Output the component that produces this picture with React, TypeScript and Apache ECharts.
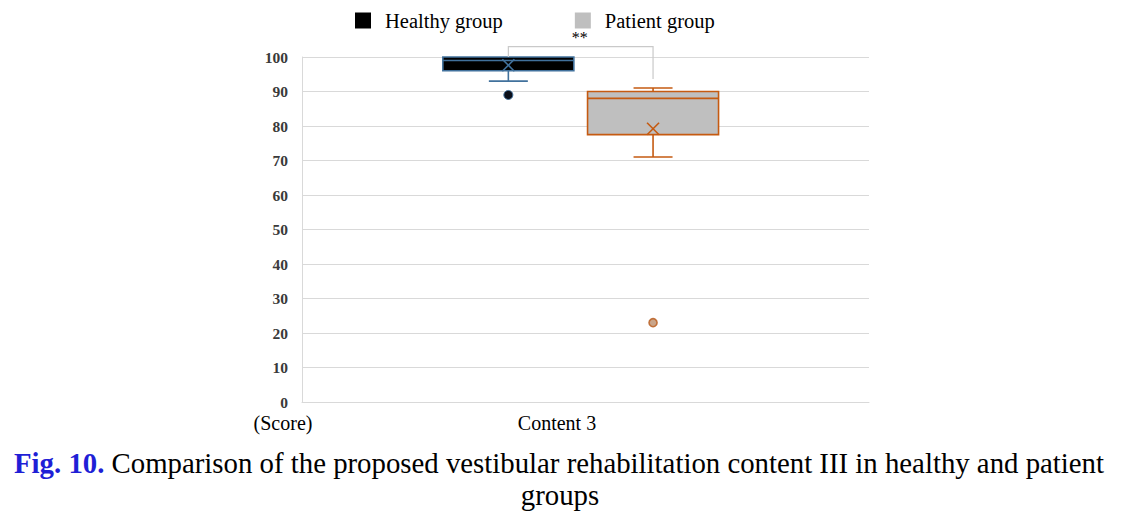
import React, { useEffect, useRef } from "react";
import * as echarts from "echarts";

const categories = ["Content 3"];
const groups = ["Healthy group", "Patient group"];
// [min, Q1, median, Q3, max]
const healthyBox = [93, 96, 99, 100, 100];
const patientBox = [71, 77.5, 88, 90, 91];
const means = [97.6, 79.2];
const healthyOutliers = [89];
const patientOutliers = [23];
// bracket: [left end, top, right end], label
const bracketValues = [100, 103, 93.6];
const bracketLabel = "**";
const yTicks = [0, 10, 20, 30, 40, 50, 60, 70, 80, 90, 100];

const FONT = "'Liberation Serif', 'Times New Roman', serif";
const fills = ["#000000", "#bfbfbf"];
const borders = ["#41719c", "#c55a11"];

export default function App() {
  const ref = useRef<HTMLDivElement>(null);
  useEffect(() => {
    if (!ref.current) return;
    const chart = echarts.init(ref.current, undefined, { renderer: "svg" });

    const boxRender = (gi: number) => (params: any, api: any) => {
      const x = api.value(0);
      const vmin = api.value(1), q1 = api.value(2), med = api.value(3), q3 = api.value(4), vmax = api.value(5), mean = api.value(6);
      const pMin = api.coord([x, vmin]);
      const pQ1 = api.coord([x, q1]);
      const pMed = api.coord([x, med]);
      const pQ3 = api.coord([x, q3]);
      const pMax = api.coord([x, vmax]);
      const pMean = api.coord([x, mean]);
      const cx = pQ1[0];
      const hw = 65.5;
      const cap = 19.5;
      const stroke = borders[gi];
      const ls = { stroke, lineWidth: 1.6, fill: "none" };
      const children: any[] = [
        {
          type: "rect",
          shape: { x: cx - hw, y: pQ3[1], width: hw * 2, height: pQ1[1] - pQ3[1] },
          style: { fill: fills[gi], stroke, lineWidth: 1.6 },
        },
        { type: "line", shape: { x1: cx - hw, y1: pMed[1], x2: cx + hw, y2: pMed[1] }, style: ls },
      ];
      if (pMin[1] > pQ1[1] + 0.5) {
        children.push({ type: "line", shape: { x1: cx, y1: pQ1[1], x2: cx, y2: pMin[1] }, style: ls });
        children.push({ type: "line", shape: { x1: cx - cap, y1: pMin[1], x2: cx + cap, y2: pMin[1] }, style: ls });
      }
      if (pMax[1] < pQ3[1] - 0.5) {
        children.push({ type: "line", shape: { x1: cx, y1: pQ3[1], x2: cx, y2: pMax[1] }, style: ls });
        children.push({ type: "line", shape: { x1: cx - cap, y1: pMax[1], x2: cx + cap, y2: pMax[1] }, style: ls });
      }
      const m = 6;
      children.push({ type: "line", shape: { x1: pMean[0] - m, y1: pMean[1] - m, x2: pMean[0] + m, y2: pMean[1] + m }, style: ls });
      children.push({ type: "line", shape: { x1: pMean[0] - m, y1: pMean[1] + m, x2: pMean[0] + m, y2: pMean[1] - m }, style: ls });
      return { type: "group", children };
    };

    const bracketRender = (params: any, api: any) => {
      const pL = api.coord([0, api.value(0)]);
      const pT = api.coord([0, api.value(1)]);
      const pR = api.coord([1, api.value(2)]);
      const midX = (pL[0] + pR[0]) / 2;
      return {
        type: "group",
        children: [
          {
            type: "polyline",
            shape: { points: [[pL[0], pL[1]], [pL[0], pT[1]], [pR[0], pT[1]], [pR[0], pR[1]]] },
            style: { stroke: "#c9c9c9", lineWidth: 1.2, fill: "none" },
          },
          {
            type: "text",
            x: midX - 1,
            y: pT[1] - 1,
            style: { text: bracketLabel, fontSize: 16, fontFamily: FONT, fill: "#000", align: "center", verticalAlign: "bottom" },
          },
        ],
      };
    };

    const option: any = {
      animation: false,
      legend: {
        data: groups,
        left: 355,
        top: 10,
        padding: 0,
        itemWidth: 16,
        itemHeight: 16,
        itemGap: 72,
        icon: "rect",
        textStyle: { fontFamily: FONT, fontSize: 20.5, color: "#000", padding: [0, 0, 0, 9] },
        selectedMode: false,
      },
      grid: [
        { left: 302, top: 57, width: 567, height: 345 },
        { left: 436, top: 57, width: 289.4, height: 345 },
      ],
      xAxis: [
        {
          type: "category",
          gridIndex: 0,
          data: categories,
          axisLine: { show: true, lineStyle: { color: "#d9d9d9", width: 1 } },
          axisTick: { show: false },
          axisLabel: { fontFamily: FONT, fontSize: 20, color: "#000", margin: 11, padding: [0, 57, 0, 0] },
          splitLine: { show: false },
        },
        {
          type: "category",
          gridIndex: 1,
          data: groups,
          show: false,
        },
      ],
      yAxis: [
        {
          type: "value",
          gridIndex: 0,
          min: yTicks[0],
          max: yTicks[yTicks.length - 1],
          interval: 10,
          axisLine: { show: true, lineStyle: { color: "#d9d9d9", width: 1 } },
          axisTick: { show: false },
          axisLabel: { fontFamily: FONT, fontSize: 15.5, fontWeight: "bold", color: "#3a3a3a", margin: 14 },
          splitLine: { show: true, lineStyle: { color: "#d9d9d9", width: 1.2 } },
        },
        {
          type: "value",
          gridIndex: 1,
          min: yTicks[0],
          max: yTicks[yTicks.length - 1],
          interval: 10,
          show: false,
          splitLine: { show: false },
        },
      ],
      series: [
        {
          name: groups[0],
          type: "custom",
          xAxisIndex: 1,
          yAxisIndex: 1,
          clip: false,
          itemStyle: { color: fills[0] },
          renderItem: boxRender(0),
          encode: { x: 0, y: [1, 2, 3, 4, 5, 6] },
          data: [[0, ...healthyBox, means[0]]],
        },
        {
          name: groups[1],
          type: "custom",
          xAxisIndex: 1,
          yAxisIndex: 1,
          clip: false,
          itemStyle: { color: fills[1] },
          renderItem: boxRender(1),
          encode: { x: 0, y: [1, 2, 3, 4, 5, 6] },
          data: [[1, ...patientBox, means[1]]],
        },
        {
          name: "Healthy outliers",
          type: "scatter",
          xAxisIndex: 1,
          yAxisIndex: 1,
          symbol: "circle",
          symbolSize: 9,
          itemStyle: { color: "#0a0f1a", borderColor: "#41719c", borderWidth: 1, opacity: 1 },
          data: healthyOutliers.map((v) => [0, v]),
        },
        {
          name: "Patient outliers",
          type: "scatter",
          xAxisIndex: 1,
          yAxisIndex: 1,
          symbol: "circle",
          symbolSize: 8,
          itemStyle: { color: "#c9a58a", borderColor: "#c0703a", borderWidth: 1.6, opacity: 1 },
          data: patientOutliers.map((v) => [1, v]),
        },
        {
          name: "Significance",
          type: "custom",
          xAxisIndex: 1,
          yAxisIndex: 1,
          clip: false,
          renderItem: bracketRender,
          encode: { x: -1, y: [0, 1, 2] },
          data: [bracketValues],
          silent: true,
        },
      ],
      graphic: [
        {
          type: "text",
          x: 283,
          y: 423,
          style: { text: "(Score)", fontFamily: FONT, fontSize: 20, fill: "#000", align: "center", verticalAlign: "middle" },
        },
        {
          type: "text",
          x: 559,
          y: 463,
          style: {
            text: "{b|Fig. 10.} Comparison of the proposed vestibular rehabilitation content III in healthy and patient",
            fontFamily: FONT,
            fontSize: 28.8,
            fill: "#000",
            align: "center",
            verticalAlign: "middle",
            rich: {
              b: { fontFamily: FONT, fontSize: 28.8, fontWeight: "bold", fill: "#1f1fd6", color: "#1f1fd6" },
            },
          },
        },
        {
          type: "text",
          x: 560,
          y: 495,
          style: { text: "groups", fontFamily: FONT, fontSize: 28.8, fill: "#000", align: "center", verticalAlign: "middle" },
        },
      ],
    };
    chart.setOption(option);
    return () => chart.dispose();
  }, []);
  return <div ref={ref} style={{ position: "absolute", left: 0, top: 0, width: 1127, height: 513 }} />;
}
